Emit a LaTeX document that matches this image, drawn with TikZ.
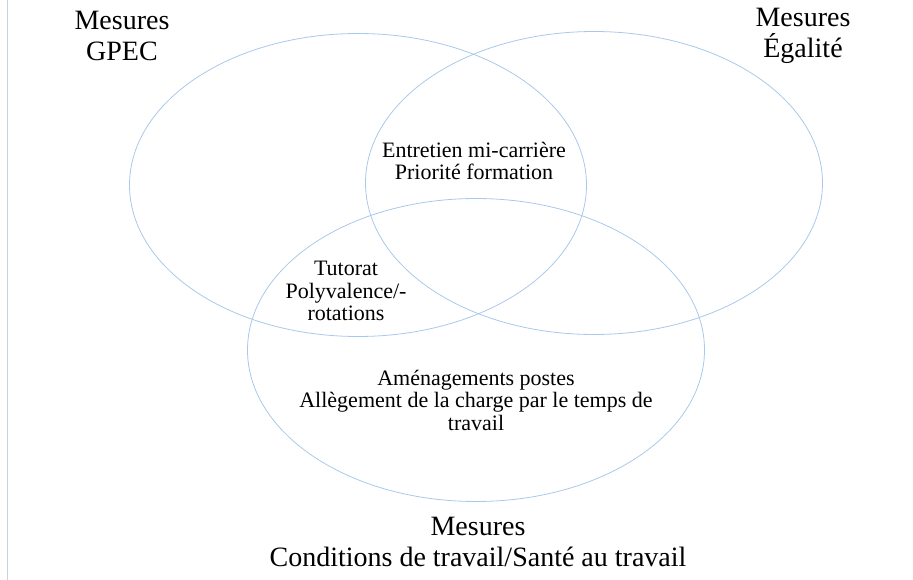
\documentclass[tikz,border=0pt]{standalone}
\usepackage{fontspec}
\setmainfont{Liberation Serif}
\usepackage{xcolor}
\usetikzlibrary{shapes.geometric}
\definecolor{vennline}{HTML}{A9C9EA}
\definecolor{edgeline}{HTML}{C5D3E2}

\begin{document}
\begin{tikzpicture}[x=1pt, y=-1pt,
    set/.style={draw=vennline, line width=0.8pt, ellipse, inner sep=0pt, minimum width=457pt, minimum height=303pt},
    settitle/.style={font=\fontsize{28}{31.5}\selectfont, align=center},
    measure/.style={font=\fontsize{22}{22.5}\selectfont, align=center}]
  \useasboundingbox (0,0) rectangle (913,580);

  % left page edge
  \coordinate (edgetop) at (7.5,0);
  \coordinate (edgebot) at (7.5,580);
  \draw[edgeline, line width=0.8pt] (edgetop) -- (edgebot);

  % the three sets
  \node[set] (gpec) at (358,185) {};
  \node[set] (egal) at (594,183) {};
  \node[set] (cond) at (476,350) {};

  % set titles
  \node[settitle] (gpectitle) at (122,36) {Mesures\\GPEC};
  \node[settitle] (egaltitle) at (803,36) {Mesures\\Égalité};
  \node[settitle] (condtitle) at (478,542) {Mesures\\Conditions de travail/Santé au travail};

  % measures in the overlaps
  \node[measure] (entretien) at (474,161) {Entretien mi-carrière\\Priorité formation};
  \node[measure] (tutorat) at (346,291) {Tutorat\\Polyvalence/-\\rotations};
  \node[measure] (amenag) at (476,400) {Aménagements postes\\Allègement de la charge par le temps de\\travail};
\end{tikzpicture}
\end{document}
